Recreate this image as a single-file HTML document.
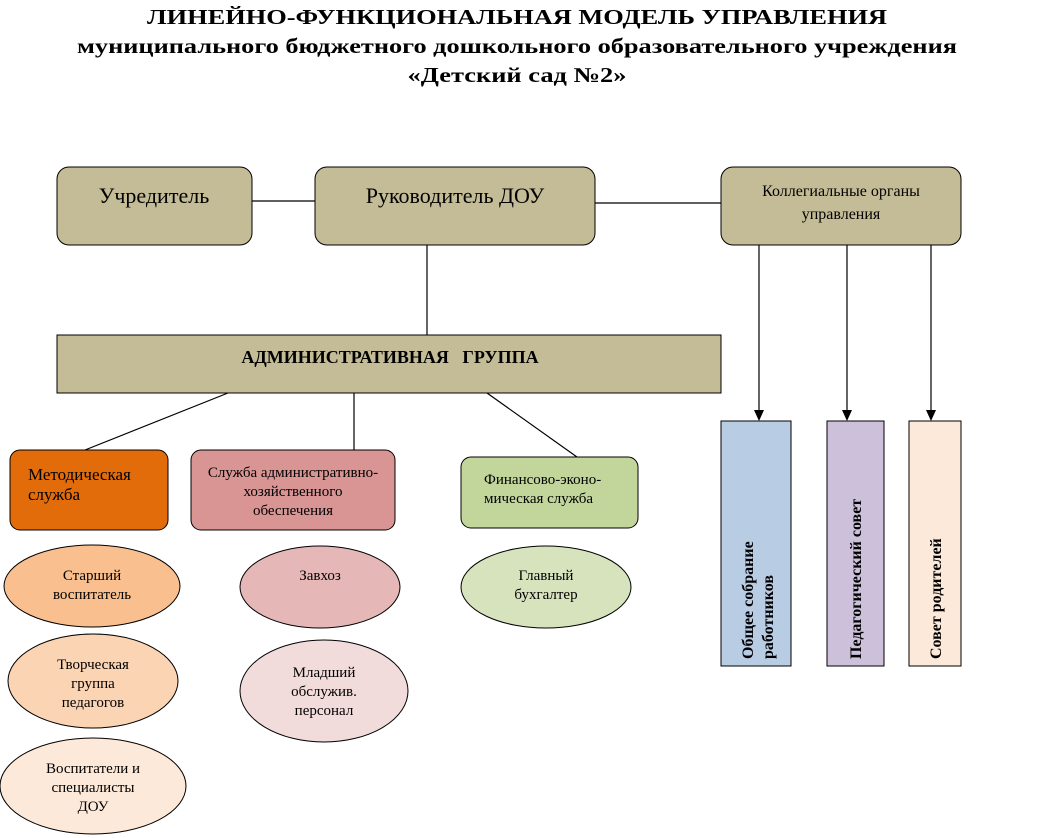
<!DOCTYPE html>
<html><head><meta charset="utf-8"><style>
html,body{margin:0;padding:0;background:#fff;}
svg{display:block;font-family:"Liberation Serif",serif;}
</style></head><body>
<svg width="1042" height="838" viewBox="0 0 1042 838" xmlns="http://www.w3.org/2000/svg">
<g font-weight="bold" text-anchor="middle" fill="#000">
<text x="517" y="24" font-size="21" textLength="740" lengthAdjust="spacingAndGlyphs">ЛИНЕЙНО-ФУНКЦИОНАЛЬНАЯ МОДЕЛЬ УПРАВЛЕНИЯ</text>
<text x="517" y="53" font-size="21" textLength="880" lengthAdjust="spacingAndGlyphs">муниципального бюджетного дошкольного образовательного учреждения</text>
<text x="517" y="82" font-size="21" textLength="219" lengthAdjust="spacingAndGlyphs">«Детский сад №2»</text>
</g>
<g stroke="#000" stroke-width="1.2">
<line x1="252" y1="201" x2="315" y2="201"/>
<line x1="595" y1="203" x2="721" y2="203"/>
<line x1="427" y1="245" x2="427" y2="335"/>
<line x1="228" y1="393" x2="85" y2="450"/>
<line x1="354" y1="393" x2="354" y2="450"/>
<line x1="487" y1="393" x2="577" y2="457"/>
<line x1="759" y1="245" x2="759" y2="412"/>
<line x1="847" y1="245" x2="847" y2="412"/>
<line x1="931" y1="245" x2="931" y2="412"/>
</g>
<g fill="#000">
<polygon points="754,410 764,410 759,421"/>
<polygon points="842,410 852,410 847,421"/>
<polygon points="926,410 936,410 931,421"/>
</g>
<g stroke="#000" stroke-width="1">
<rect x="57" y="167" width="195" height="78" rx="12" fill="#c4bc96"/>
<rect x="315" y="167" width="280" height="78" rx="12" fill="#c4bc96"/>
<rect x="721" y="167" width="240" height="78" rx="12" fill="#c4bc96"/>
<rect x="57" y="335" width="664" height="58" fill="#c4bc96"/>
<rect x="10" y="450" width="158" height="80" rx="10" fill="#e36c0a"/>
<rect x="191" y="450" width="204" height="80" rx="10" fill="#d99594"/>
<rect x="461" y="457" width="177" height="71" rx="10" fill="#c2d69b"/>
<ellipse cx="92" cy="586" rx="88" ry="41" fill="#fabf8f"/>
<ellipse cx="93" cy="681" rx="85" ry="47" fill="#fbd4b4"/>
<ellipse cx="93" cy="786" rx="93" ry="48" fill="#fde9d9"/>
<ellipse cx="320" cy="587" rx="80" ry="41" fill="#e5b8b7"/>
<ellipse cx="324" cy="691" rx="84" ry="51" fill="#f2dcdb"/>
<ellipse cx="546" cy="587" rx="85" ry="41" fill="#d6e3bc"/>
<rect x="721" y="421" width="70" height="245" fill="#b8cce4"/>
<rect x="827" y="421" width="57" height="245" fill="#ccc0da"/>
<rect x="909" y="421" width="52" height="245" fill="#fde9d9"/>
</g>
<g fill="#000" text-anchor="middle">
<text x="154" y="203" font-size="22">Учредитель</text>
<text x="455" y="203" font-size="22">Руководитель ДОУ</text>
<text x="841" y="196" font-size="16">Коллегиальные органы</text>
<text x="841" y="219" font-size="16">управления</text>
<text x="390" y="363" font-size="18" font-weight="bold" xml:space="preserve">АДМИНИСТРАТИВНАЯ   ГРУППА</text>
<text x="293" y="477" font-size="15">Служба административно-</text>
<text x="293" y="496" font-size="15">хозяйственного</text>
<text x="293" y="515" font-size="15">обеспечения</text>
<text x="92" y="580" font-size="15">Старший</text>
<text x="92" y="599" font-size="15">воспитатель</text>
<text x="93" y="669" font-size="15">Творческая</text>
<text x="93" y="688" font-size="15">группа</text>
<text x="93" y="707" font-size="15">педагогов</text>
<text x="93" y="773" font-size="15">Воспитатели и</text>
<text x="93" y="792" font-size="15">специалисты</text>
<text x="93" y="811" font-size="15">ДОУ</text>
<text x="320" y="580" font-size="15">Завхоз</text>
<text x="324" y="677" font-size="15">Младший</text>
<text x="324" y="696" font-size="15">обслужив.</text>
<text x="324" y="715" font-size="15">персонал</text>
<text x="546" y="580" font-size="15">Главный</text>
<text x="546" y="599" font-size="15">бухгалтер</text>
</g>
<g fill="#000">
<text x="28" y="480" font-size="17">Методическая</text>
<text x="28" y="500" font-size="17">служба</text>
<text x="484" y="484" font-size="15">Финансово-эконо-</text>
<text x="484" y="503" font-size="15">мическая служба</text>
</g>
<g fill="#000" font-weight="bold" font-size="16">
<text transform="translate(753,659) rotate(-90)">Общее собрание</text>
<text transform="translate(773,659) rotate(-90)">работников</text>
<text transform="translate(861,659) rotate(-90)">Педагогический совет</text>
<text transform="translate(941,659) rotate(-90)">Совет родителей</text>
</g>
</svg>
</body></html>
